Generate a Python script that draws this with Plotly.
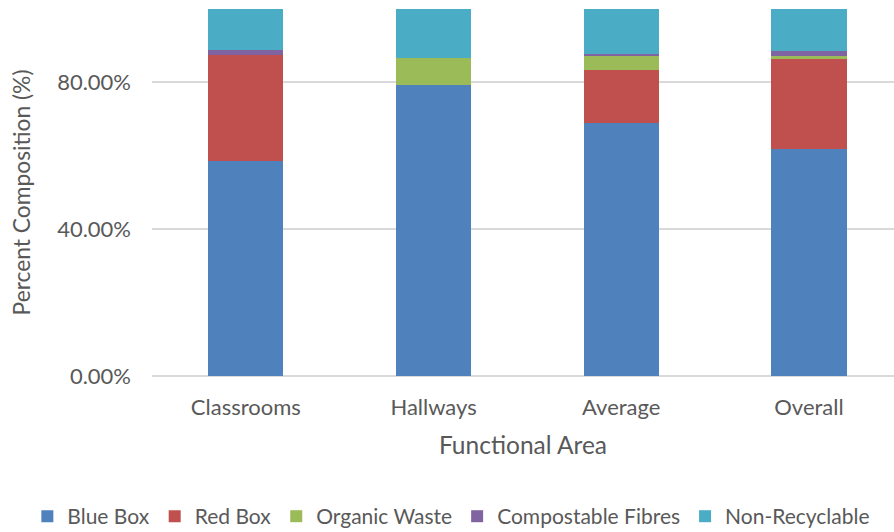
import plotly.graph_objects as go

categories = ["Classrooms", "Hallways", "Average", "Overall"]
blue_box = [0.587, 0.793, 0.690, 0.618]
red_box = [0.287, 0.0, 0.143, 0.245]
organic_waste = [0.0, 0.073, 0.038, 0.010]
compostable_fibres = [0.015, 0.0, 0.007, 0.012]
non_recyclable = [0.111, 0.134, 0.122, 0.115]

series = [
    ("Blue Box", blue_box, "#4F81BD"),
    ("Red Box", red_box, "#C0504D"),
    ("Organic Waste", organic_waste, "#9BBB59"),
    ("Compostable Fibres", compostable_fibres, "#8064A2"),
    ("Non-Recyclable", non_recyclable, "#4BACC6"),
]

FONT = "Lato, Open Sans, sans-serif"
TXT = "#595959"

fig = go.Figure()
for name, vals, col in series:
    fig.add_trace(go.Bar(x=categories, y=vals, name=name, marker=dict(color=col, line=dict(width=0))))

fig.update_layout(
    barmode="stack",
    bargap=0.6,
    width=894, height=532,
    margin=dict(l=152, r=0, t=9, b=156, autoexpand=False),
    paper_bgcolor="white", plot_bgcolor="white",
    font=dict(family=FONT, color=TXT, size=22),
    showlegend=True,
    legend=dict(orientation="h", x=-0.168, xanchor="left",
                y=-0.383, yanchor="middle",
                font=dict(size=21, color=TXT), itemwidth=30, traceorder="normal"),
    xaxis=dict(range=[-0.5, 3.453], showgrid=False, showline=False, ticks="",
               automargin=False, ticklabelstandoff=16,
               tickfont=dict(size=22, color=TXT),
               title=dict(text="Functional Area", font=dict(size=24.5, color=TXT), standoff=17)),
    yaxis=dict(range=[0, 1], dtick=0.4, tickformat=".2%", showgrid=True,
               automargin=False,
               gridcolor="#D9D9D9", gridwidth=1.5, zeroline=True, zerolinecolor="#D9D9D9",
               zerolinewidth=1.5, ticks="", ticklabelstandoff=20,
               tickfont=dict(size=22, color=TXT),
               title=dict(text="Percent Composition (%)", font=dict(size=22.8, color=TXT), standoff=20)),
)

fig.write_html("out.html", config={"displayModeBar": False},
               post_script="document.body.style.margin='0';document.body.style.overflow='hidden';")
